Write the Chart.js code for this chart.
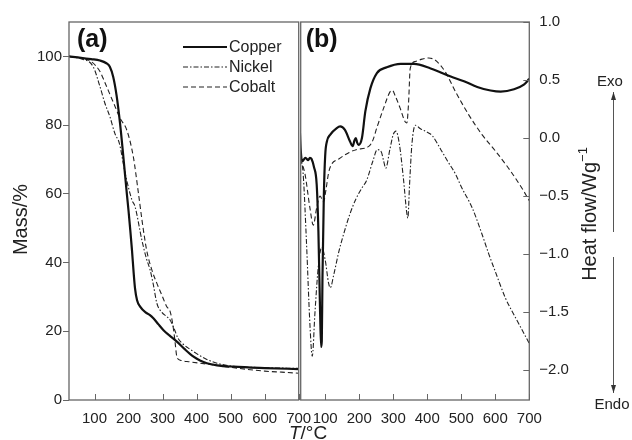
<!DOCTYPE html>
<html><head><meta charset="utf-8">
<script src="https://cdn.jsdelivr.net/npm/chart.js@4/dist/chart.umd.min.js"></script>
<style>
html,body{margin:0;padding:0;background:#fff;}
#wrap{position:relative;width:632px;height:440px;overflow:hidden;background:#fff;}
.layer{position:absolute;left:0;top:0;width:632px;height:440px;}
</style></head><body>
<div id="wrap">
<div class="layer"><canvas id="ca" width="632" height="440"></canvas></div>
<div class="layer"><canvas id="cb" width="632" height="440"></canvas></div>
</div>
<script>
// ---------- DATA ----------
const seriesNames = ['Copper', 'Nickel', 'Cobalt'];
const xTickValues = [100, 200, 300, 400, 500, 600, 700];
const massTickValues = [0, 20, 40, 60, 80, 100];
const heatTickValues = [1.0, 0.5, 0.0, -0.5, -1.0, -1.5, -2.0];

// (a) TG curves: temperature / mass %
const tgCuT = [25, 60, 90, 116, 135, 145, 155, 165, 175, 185, 195, 200, 205, 210, 215, 219, 225, 234, 250, 262, 273, 288, 302, 320, 342, 365, 391, 410, 430, 460, 508, 600, 700];
const tgCuM = [100, 99.6, 99.2, 98.8, 98, 97, 94, 88.5, 80.5, 70.5, 60, 55, 49.5, 43.7, 37, 32.5, 29, 27.2, 25.5, 24.8, 23.8, 22, 20.4, 18.8, 17, 14.8, 12.6, 11.5, 10.7, 10.1, 9.7, 9.3, 9.0];
const tgNiT = [25, 60, 96, 116, 130, 145, 160, 173, 190, 210, 219, 239, 253, 263, 273, 283, 298, 312, 322, 335, 345, 360, 380, 400, 430, 460, 500, 600, 700];
const tgNiM = [100, 99.3, 97, 91.2, 86.5, 82.5, 77.5, 74.7, 66, 58.2, 56.3, 46.6, 41, 38, 33.5, 28.2, 25.5, 24.3, 23.3, 20.5, 18, 16.3, 14.8, 13.5, 11.8, 10.7, 9.9, 9.4, 9.2];
const tgCoT = [25, 60, 90, 116, 130, 145, 160, 175, 195, 214, 229, 240, 253, 268, 283, 298, 312, 322, 330, 336, 342, 352, 380, 410, 450, 500, 550, 600, 650, 700];
const tgCoM = [100, 99.5, 98.5, 95.6, 92.5, 89, 85.5, 82, 78.5, 70.8, 60.2, 52, 43.7, 38, 34, 30.5, 27.2, 25.8, 22, 17.5, 12.6, 11.6, 11.1, 10.7, 10.2, 9.5, 8.9, 8.4, 8.1, 7.8];

// (b) DSC curves: temperature / heat flow W g^-1
const dscCuT = [25, 28, 32, 42, 50, 55, 60, 67, 75, 80, 85, 88, 90, 92, 96, 100, 105, 115, 134, 144, 158, 173, 181, 186, 190, 194, 198, 208, 218, 233, 252, 281, 322, 361, 410, 469, 508, 547, 586, 616, 655, 684, 700];
const dscCuH = [0.1, -0.1, -0.2, -0.17, -0.19, -0.17, -0.18, -0.25, -0.4, -0.8, -1.5, -1.8, -1.75, -1.2, -0.5, -0.15, -0.03, 0.03, 0.086, 0.1, 0.07, -0.03, -0.07, -0.02, 0.0, -0.04, -0.06, 0.0, 0.23, 0.43, 0.56, 0.61, 0.64, 0.64, 0.6, 0.53, 0.49, 0.44, 0.41, 0.4, 0.42, 0.46, 0.51];
const dscNiT = [25, 35, 45, 55, 62, 70, 80, 90, 100, 110, 115, 125, 140, 155, 172, 191, 210, 221, 240, 253, 265, 272, 278, 290, 300, 308, 318, 330, 340, 343, 348, 355, 365, 380, 400, 415, 440, 460, 483, 500, 532, 560, 581, 600, 630, 660, 700];
const dscNiH = [-0.15, -0.3, -0.9, -1.6, -1.88, -1.5, -1.1, -0.94, -1.05, -1.25, -1.29, -1.18, -0.98, -0.82, -0.66, -0.52, -0.42, -0.37, -0.2, -0.1, -0.12, -0.2, -0.26, -0.1, 0.03, 0.06, -0.05, -0.35, -0.65, -0.69, -0.4, -0.05, 0.11, 0.08, 0.05, 0.02, -0.1, -0.2, -0.31, -0.42, -0.6, -0.82, -1.0, -1.15, -1.38, -1.55, -1.77];
const dscCoT = [25, 40, 55, 65, 75, 85, 95, 102, 110, 118, 140, 167, 191, 229, 240, 252, 272, 291, 298, 305, 320, 335, 340, 345, 350, 365, 385, 404, 424, 453, 483, 522, 561, 600, 639, 678, 700];
const dscCoH = [-0.18, -0.3, -0.6, -0.75, -0.6, -0.5, -0.55, -0.45, -0.3, -0.23, -0.18, -0.13, -0.1, -0.07, -0.02, 0.09, 0.26, 0.4, 0.41, 0.37, 0.26, 0.14, 0.13, 0.3, 0.6, 0.66, 0.68, 0.69, 0.67, 0.57, 0.4, 0.2, 0.03, -0.11, -0.26, -0.43, -0.54];

// ---------- STYLE ----------
const FONT = "'Liberation Sans', Arial, Helvetica, sans-serif";
const INK = '#222';
const AXIS = '#666';
const styles = [
  { borderColor: '#111', borderWidth: 2.2, borderDash: [] },
  { borderColor: '#222', borderWidth: 1.1, borderDash: [5, 2, 1.5, 2] },
  { borderColor: '#222', borderWidth: 1.1, borderDash: [5, 3] }
];
const pts = (xs, ys) => xs.map((x, i) => ({ x: x, y: ys[i] }));
function mkDatasets(list) {
  return list.map((p, i) => Object.assign({
    label: seriesNames[i], data: pts(p[0], p[1]), pointRadius: 0, fill: false,
    cubicInterpolationMode: 'monotone'
  }, styles[i]));
}
const tickFont = { family: FONT, size: 15 };
const setTicks = vals => s => { s.ticks = vals.map(v => ({ value: v })); };
const fmtHeat = v => (v < 0 ? '\u2212' : '') + Math.abs(v).toFixed(1);

function inwardTicks(ctx, scale, area, side, len) {
  ctx.save();
  ctx.strokeStyle = AXIS; ctx.lineWidth = 1; ctx.setLineDash([]);
  ctx.beginPath();
  scale.ticks.forEach(t => {
    const p = Math.round(scale.getPixelForValue(t.value)) + 0.5;
    if (side === 'bottom') { ctx.moveTo(p, area.bottom); ctx.lineTo(p, area.bottom - len); }
    if (side === 'right') { ctx.moveTo(area.right, p); ctx.lineTo(area.right - len, p); }
  });
  ctx.stroke();
  ctx.restore();
}
function box(ctx, a) {
  ctx.save();
  ctx.strokeStyle = AXIS; ctx.lineWidth = 1.3; ctx.setLineDash([]);
  ctx.strokeRect(a.left, a.top, a.right - a.left, a.bottom - a.top);
  ctx.restore();
}
function arrow(ctx, x, y1, y2) { // from y1 to head at y2
  ctx.save();
  ctx.strokeStyle = '#555'; ctx.fillStyle = '#333'; ctx.lineWidth = 1;
  ctx.beginPath(); ctx.moveTo(x, y1); ctx.lineTo(x, y2); ctx.stroke();
  const d = y2 > y1 ? 1 : -1;
  ctx.beginPath(); ctx.moveTo(x, y2); ctx.lineTo(x - 2.5, y2 - d * 8); ctx.lineTo(x + 2.5, y2 - d * 8); ctx.closePath(); ctx.fill();
  ctx.restore();
}

const decorA = {
  id: 'decorA',
  afterDatasetsDraw(chart) {
    const ctx = chart.ctx, a = chart.chartArea;
    box(ctx, a);
    inwardTicks(ctx, chart.scales.x, a, 'bottom', 6);
    ctx.save();
    ctx.fillStyle = '#111';
    ctx.font = 'bold 25px ' + FONT;
    ctx.textBaseline = 'alphabetic'; ctx.textAlign = 'left';
    ctx.fillText('(a)', a.left + 8, 47);
    // legend
    const ly = [47, 67, 87];
    chart.data.datasets.forEach((ds, i) => {
      ctx.save();
      ctx.strokeStyle = ds.borderColor; ctx.lineWidth = ds.borderWidth;
      ctx.setLineDash(ds.borderDash);
      ctx.beginPath(); ctx.moveTo(183, ly[i]); ctx.lineTo(227, ly[i]); ctx.stroke();
      ctx.restore();
      ctx.fillStyle = INK; ctx.font = '16px ' + FONT; ctx.textBaseline = 'middle';
      ctx.fillText(ds.label, 229, ly[i] + 1);
    });
    // y title
    ctx.save();
    ctx.translate(27, 219.5); ctx.rotate(-Math.PI / 2);
    ctx.font = '20px ' + FONT; ctx.textAlign = 'center'; ctx.textBaseline = 'alphabetic';
    ctx.fillStyle = INK;
    ctx.fillText('Mass/%', 0, 0);
    ctx.restore();
    // x title
    ctx.font = 'italic 19px ' + FONT;
    const wT = ctx.measureText('T').width;
    ctx.font = '19px ' + FONT;
    const wR = ctx.measureText('/\u00B0C').width;
    const x0 = 308 - (wT + wR) / 2;
    ctx.textAlign = 'left'; ctx.textBaseline = 'alphabetic'; ctx.fillStyle = INK;
    ctx.font = 'italic 19px ' + FONT; ctx.fillText('T', x0, 439);
    ctx.font = '19px ' + FONT; ctx.fillText('/\u00B0C', x0 + wT, 439);
    ctx.restore();
  }
};

const decorB = {
  id: 'decorB',
  afterDatasetsDraw(chart) {
    const ctx = chart.ctx, a = chart.chartArea;
    box(ctx, a);
    inwardTicks(ctx, chart.scales.x, a, 'bottom', 6);
    inwardTicks(ctx, chart.scales.y, a, 'right', 6);
    ctx.save();
    ctx.fillStyle = '#111';
    ctx.font = 'bold 25px ' + FONT;
    ctx.textBaseline = 'alphabetic'; ctx.textAlign = 'left';
    ctx.fillText('(b)', a.left + 5, 47);
    // right title with superscript
    ctx.save();
    ctx.translate(596, 214); ctx.rotate(-Math.PI / 2);
    ctx.fillStyle = INK;
    ctx.font = '20px ' + FONT;
    const w1 = ctx.measureText('Heat flow/Wg').width;
    ctx.font = '13px ' + FONT;
    const w2 = ctx.measureText('\u22121').width;
    const s = -(w1 + w2) / 2;
    ctx.textBaseline = 'alphabetic'; ctx.textAlign = 'left';
    ctx.font = '20px ' + FONT; ctx.fillText('Heat flow/Wg', s, 0);
    ctx.font = '13px ' + FONT; ctx.fillText('\u22121', s + w1, -9);
    ctx.restore();
    // Exo / Endo
    ctx.fillStyle = INK; ctx.font = '15px ' + FONT; ctx.textAlign = 'center'; ctx.textBaseline = 'middle';
    ctx.fillText('Exo', 610, 82);
    ctx.fillText('Endo', 612, 405);
    arrow(ctx, 613.5, 232, 92);
    arrow(ctx, 613.5, 257, 393);
    ctx.restore();
  }
};

const common = {
  responsive: false, animation: false, devicePixelRatio: 1,
  plugins: { legend: { display: false }, tooltip: { enabled: false } },
  elements: { line: { tension: 0 } }
};

new Chart(document.getElementById('ca'), {
  type: 'line',
  data: { datasets: mkDatasets([[tgCuT, tgCuM], [tgNiT, tgNiM], [tgCoT, tgCoM]]) },
  options: Object.assign({}, common, {
    layout: { padding: { left: 0, top: 22, right: 333.3, bottom: 0 } },
    scales: {
      x: { type: 'linear', min: 25, max: 700, afterBuildTicks: setTicks(xTickValues), afterFit: s => { s.height = 40; },
        grid: { display: false }, border: { display: false },
        ticks: { font: tickFont, color: INK, padding: 2, maxRotation: 0, autoSkip: false } },
      y: { type: 'linear', min: 0, max: 110, afterBuildTicks: setTicks(massTickValues), afterFit: s => { s.width = 69; },
        grid: { drawOnChartArea: false, tickLength: 6, color: AXIS }, border: { display: false },
        ticks: { font: tickFont, color: INK, padding: 1, autoSkip: false } }
    }
  }),
  plugins: [decorA]
});

new Chart(document.getElementById('cb'), {
  type: 'line',
  data: { datasets: mkDatasets([[dscCuT, dscCuH], [dscNiT, dscNiH], [dscCoT, dscCoH]]) },
  options: Object.assign({}, common, {
    layout: { padding: { left: 300.7, top: 22, right: 0, bottom: 0 } },
    scales: {
      x: { type: 'linear', min: 28, max: 700, afterBuildTicks: setTicks(xTickValues), afterFit: s => { s.height = 40; },
        grid: { display: false }, border: { display: false },
        ticks: { font: tickFont, color: INK, padding: 2, maxRotation: 0, autoSkip: false } },
      y: { type: 'linear', position: 'right', min: -2.257, max: 1.0, afterBuildTicks: setTicks(heatTickValues), afterFit: s => { s.width = 102.7; },
        grid: { display: false }, border: { display: false },
        ticks: { font: tickFont, color: INK, padding: 2, autoSkip: false, callback: fmtHeat } }
    }
  }),
  plugins: [decorB]
});
</script>
</body></html>
